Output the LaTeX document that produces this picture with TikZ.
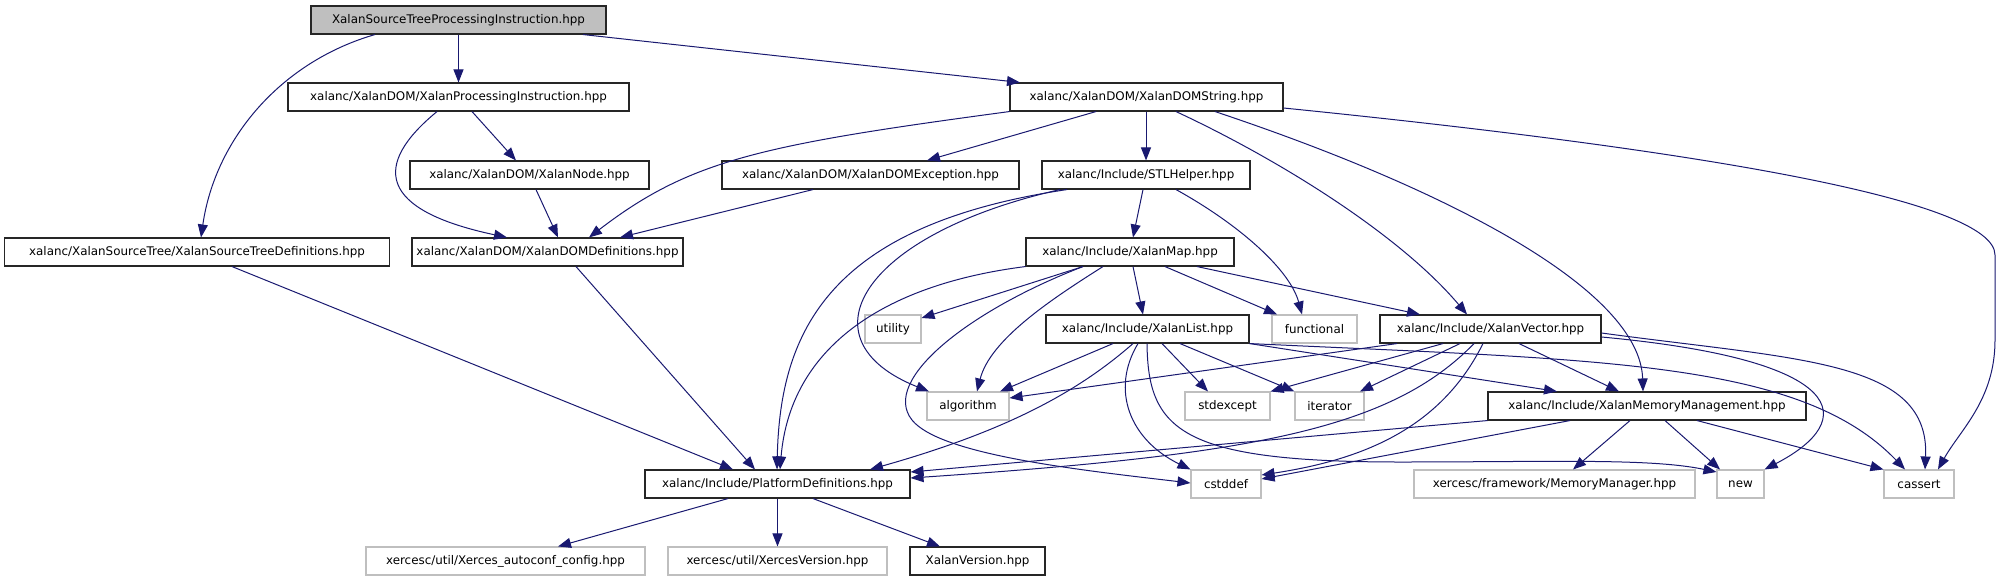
\documentclass[tikz,border=0pt]{standalone}
\usepackage{fontspec}
\setmainfont{DejaVu Sans}
\usetikzlibrary{arrows.meta}
\definecolor{edgec}{HTML}{191970}
\definecolor{extc}{HTML}{BFBFBF}
\definecolor{rootc}{HTML}{BFBFBF}
\begin{document}
\begin{tikzpicture}[x=1pt,y=-1pt,
  box/.style={draw=black!85,line width=1.1pt,rectangle,minimum height=28pt,inner sep=0pt,font=\fontsize{11.9}{14}\selectfont,text=black},
  ext/.style={box,draw=extc},
  rootbox/.style={box,fill=rootc},
  dep/.style={draw=edgec,line width=1pt,-{Triangle[length=13pt,width=10pt]},fill=none}
]
\useasboundingbox (0,0) rectangle (2001,581);
% nodes
\node[rootbox,minimum width=295pt] (root) at (458.5,20) {XalanSourceTreeProcessingInstruction.hpp};
\node[box,minimum width=341pt] (xpi) at (458.5,97) {xalanc/XalanDOM/XalanProcessingInstruction.hpp};
\node[box,minimum width=239pt] (xnode) at (529.5,175) {xalanc/XalanDOM/XalanNode.hpp};
\node[box,minimum width=385pt] (xstd) at (197,252) {xalanc/XalanSourceTree/XalanSourceTreeDefinitions.hpp};
\node[box,minimum width=271pt] (xdd) at (547.5,252) {xalanc/XalanDOM/XalanDOMDefinitions.hpp};
\node[box,minimum width=273pt] (xds) at (1146.5,97) {xalanc/XalanDOM/XalanDOMString.hpp};
\node[box,minimum width=297pt] (xdex) at (870.5,175) {xalanc/XalanDOM/XalanDOMException.hpp};
\node[box,minimum width=208pt] (stl) at (1146,175) {xalanc/Include/STLHelper.hpp};
\node[box,minimum width=208pt] (xmap) at (1130,252) {xalanc/Include/XalanMap.hpp};
\node[ext,minimum width=56pt] (util) at (893,329) {utility};
\node[box,minimum width=203pt] (xlist) at (1147.5,329) {xalanc/Include/XalanList.hpp};
\node[ext,minimum width=85pt] (func) at (1314.5,329) {functional};
\node[box,minimum width=221pt] (xvec) at (1490.5,329) {xalanc/Include/XalanVector.hpp};
\node[ext,minimum width=82pt] (algo) at (968,406) {algorithm};
\node[ext,minimum width=85pt] (stdx) at (1227.5,406) {stdexcept};
\node[ext,minimum width=69pt] (iter) at (1329.5,406) {iterator};
\node[box,minimum width=318pt] (xmm) at (1647,406) {xalanc/Include/XalanMemoryManagement.hpp};
\node[box,minimum width=265pt] (plat) at (777.5,484) {xalanc/Include/PlatformDefinitions.hpp};
\node[ext,minimum width=70pt] (cstd) at (1226,484) {cstddef};
\node[ext,minimum width=281pt] (mm) at (1554.5,484) {xercesc/framework/MemoryManager.hpp};
\node[ext,minimum width=47pt] (new) at (1740.5,484) {new};
\node[ext,minimum width=70pt] (cass) at (1919,484) {cassert};
\node[ext,minimum width=279pt] (xac) at (505.5,561) {xercesc/util/Xerces\_autoconf\_config.hpp};
\node[ext,minimum width=219pt] (xv) at (777.5,561) {xercesc/util/XercesVersion.hpp};
\node[box,minimum width=135pt] (xver) at (977.5,561) {XalanVersion.hpp};
% edges
\path[dep] (root.south -| 375,0) .. controls (280,62) and (215,140) .. (xstd.north -| 201,0);
\path[dep] (root.south) -- (xpi.north);
\path[dep] (root.south -| 583,0) -- (xds.north -| 1020,0);
\path[dep] (xpi.south -| 472,0) -- (xnode.north -| 516,0);
\path[dep] (xpi.south -| 437,0) .. controls (372,165) and (378,210) .. (xdd.north -| 507,0);
\path[dep] (xnode.south -| 536,0) -- (xdd.north -| 558,0);
\path[dep] (xds.south west) .. controls (760,145) and (690,160) .. (xdd.north -| 589,0);
\path[dep] (xdex.south -| 813,0) -- (xdd.north -| 620,0);
\path[dep] (xds.south -| 1096,0) -- (xdex.north -| 927,0);
\path[dep] (xds.south -| 1146,0) -- (stl.north);
\path[dep] (xds.south -| 1176,0) .. controls (1280,160) and (1400,235) .. (xvec.north -| 1467,0);
\path[dep] (xds.south -| 1215,0) .. controls (1450,190) and (1640,290) .. (xmm.north -| 1643,0);
\path[dep] (xds.east |- 0,108) .. controls (1700,150) and (1995,200) .. (1995,255) -- (1995,340) .. controls (1995,400) and (1960,430) .. (cass.north -| 1938,0);
\path[dep] (stl.south -| 1143,0) -- (xmap.north -| 1133,0);
\path[dep] (stl.south -| 1067,0) .. controls (830,225) and (780,330) .. (plat.north -| 777,0);
\path[dep] (stl.south -| 1060,0) .. controls (860,235) and (800,340) .. (algo.north -| 929,0);
\path[dep] (stl.south -| 1176,0) .. controls (1240,225) and (1290,270) .. (func.north -| 1302,0);
\path[dep] (xmap.south -| 1083,0) -- (util.east |- 0,318);
\path[dep] (xmap.south -| 1103,0) .. controls (1050,300) and (990,340) .. (algo.north -| 977,0);
\path[dep] (xmap.south -| 1083,0) .. controls (970,310) and (880,380) .. (912,420) .. controls (940,455) and (1080,470) .. (cstd.west |- 0,483);
\path[dep] (xmap.south west) .. controls (880,285) and (790,350) .. (plat.north -| 780,0);
\path[dep] (xmap.south -| 1133,0) -- (xlist.north -| 1143,0);
\path[dep] (xmap.south -| 1165,0) -- (func.north -| 1277,0);
\path[dep] (xmap.south -| 1197,0) -- (xvec.north -| 1420,0);
\path[dep] (xlist.south -| 1113,0) -- (algo.north -| 1000,0);
\path[dep] (xlist.south -| 1133,0) .. controls (1080,390) and (1010,430) .. (plat.north -| 870,0);
\path[dep] (xlist.south -| 1138,0) .. controls (1110,390) and (1130,440) .. (cstd.north west);
\path[dep] (xlist.south -| 1162,0) -- (stdx.north -| 1208,0);
\path[dep] (xlist.south -| 1180,0) -- (iter.north west);
\path[dep] (xlist.south east) -- (xmm.north -| 1557,0);
\path[dep] (xlist.south -| 1147,0) .. controls (1148,430) and (1180,462) .. (1400,462) .. controls (1550,462) and (1650,458) .. (new.west |- 0,472);
\path[dep] (xlist.south east) .. controls (1600,360) and (1800,360) .. (cass.north -| 1905,0);
\path[dep] (xvec.south -| 1397,0) -- (algo.east |- 0,398);
\path[dep] (xvec.south -| 1443,0) -- (stdx.north east);
\path[dep] (xvec.south -| 1460,0) -- (iter.north -| 1360,0);
\path[dep] (xvec.south -| 1474,0) .. controls (1390,430) and (1250,455) .. (plat.east |- 0,478);
\path[dep] (xvec.south -| 1483,0) .. controls (1440,430) and (1360,460) .. (cstd.east |- 0,475);
\path[dep] (xvec.south -| 1519,0) -- (xmm.north -| 1619,0);
\path[dep] (xvec.east |- 0,337) .. controls (1850,360) and (1860,420) .. (new.north east);
\path[dep] (xvec.east |- 0,333) .. controls (1800,360) and (1930,360) .. (cass.north -| 1925,0);
\path[dep] (xmm.south west) -- (plat.east |- 0,472);
\path[dep] (xmm.south -| 1570,0) -- (cstd.east |- 0,479);
\path[dep] (xmm.south -| 1630,0) -- (mm.north -| 1573,0);
\path[dep] (xmm.south -| 1665,0) -- (new.north -| 1720,0);
\path[dep] (xmm.south -| 1697,0) -- (cass.north west);
\path[dep] (plat.south -| 728,0) -- (xac.north -| 558,0);
\path[dep] (plat.south) -- (xv.north);
\path[dep] (plat.south -| 813,0) -- (xver.north -| 940,0);
\path[dep] (xstd.south -| 232,0) -- (plat.north -| 733,0);
\path[dep] (xdd.south -| 576,0) -- (plat.north -| 755,0);
\end{tikzpicture}
\end{document}
